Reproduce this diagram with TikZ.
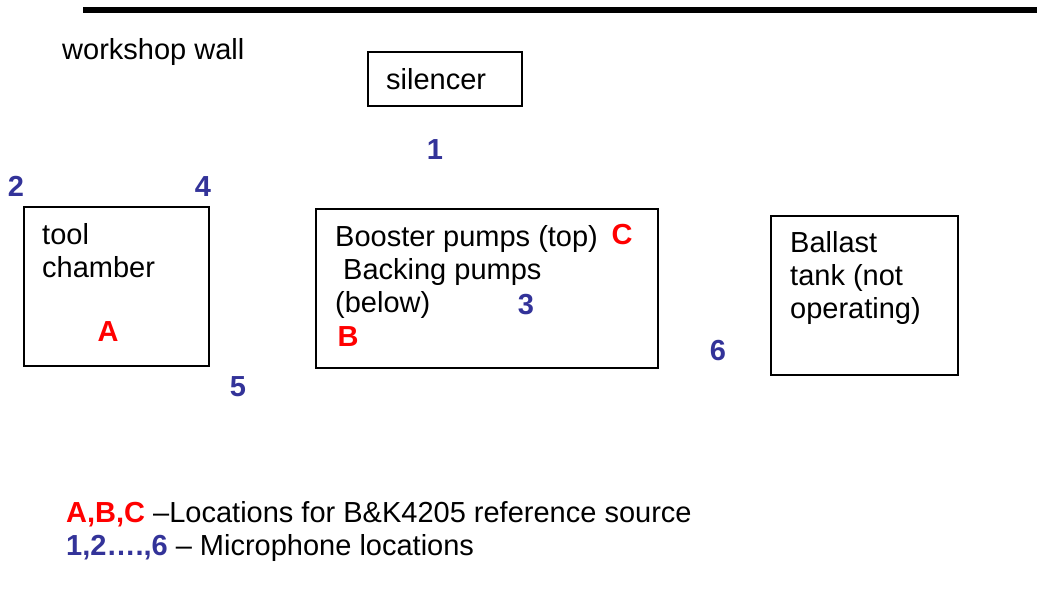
\documentclass[tikz,border=0pt]{standalone}
\usepackage{fontspec}
\setmainfont{Liberation Sans}
\definecolor{micblue}{RGB}{51,51,153}
\definecolor{srcred}{RGB}{255,0,0}
\begin{document}
\begin{tikzpicture}[x=1pt,y=-1pt,
  txt/.style={anchor=base west,inner sep=0pt,font=\fontsize{29}{34}\selectfont},
  mic/.style={anchor=base,inner sep=0pt,text=micblue,font=\fontsize{29}{34}\selectfont\bfseries},
  src/.style={anchor=base,inner sep=0pt,text=srcred,font=\fontsize{29}{34}\selectfont\bfseries},
  box/.style={draw,line width=1.6pt,inner sep=0pt}]
\useasboundingbox (0,0) rectangle (1037,609);
% wall
\coordinate (wallL) at (83,10.3);
\coordinate (wallR) at (1037,10.3);
\draw[line width=6pt] (wallL) -- (wallR);
\node[txt] (wall) at (62,60) {workshop wall};
% boxes
\node[box,minimum width=154pt,minimum height=54pt] (silbox) at (445,79) {};
\node[txt] (sil) at (386,90) {silencer};
\node[box,minimum width=185pt,minimum height=159pt] (toolbox) at (116.5,286.5) {};
\node[txt] (t1) at (42,245) {tool};
\node[txt] (t2) at (42,278) {chamber};
\node[box,minimum width=342pt,minimum height=158.5pt] (pumpbox) at (486.8,288.5) {};
\node[txt] (p1) at (335,247) {Booster pumps (top)};
\node[txt] (p2) at (343,280) {Backing pumps};
\node[txt] (p3) at (335,313) {(below)};
\node[box,minimum width=187pt,minimum height=159pt] (ballbox) at (864.5,295.5) {};
\node[txt] (b1) at (790,253) {Ballast};
\node[txt] (b2) at (790,286) {tank (not};
\node[txt] (b3) at (790,319) {operating)};
% microphones
\node[mic] (m1) at (435,160) {1};
\node[mic] (m2) at (16,197) {2};
\node[mic] (m3) at (526,315) {3};
\node[mic] (m4) at (203,197) {4};
\node[mic] (m5) at (238,397) {5};
\node[mic] (m6) at (718,361) {6};
% sources
\node[src] (sA) at (108,342) {A};
\node[src] (sB) at (348,347) {B};
\node[src] (sC) at (622,245) {C};
% legend
\node[txt] (leg1) at (66,523) {\textcolor{srcred}{\bfseries A,B,C} –Locations for B\&K4205 reference source};
\node[txt] (leg2) at (66,556) {\textcolor{micblue}{\bfseries 1,2….,6} – Microphone locations};
\end{tikzpicture}
\end{document}
